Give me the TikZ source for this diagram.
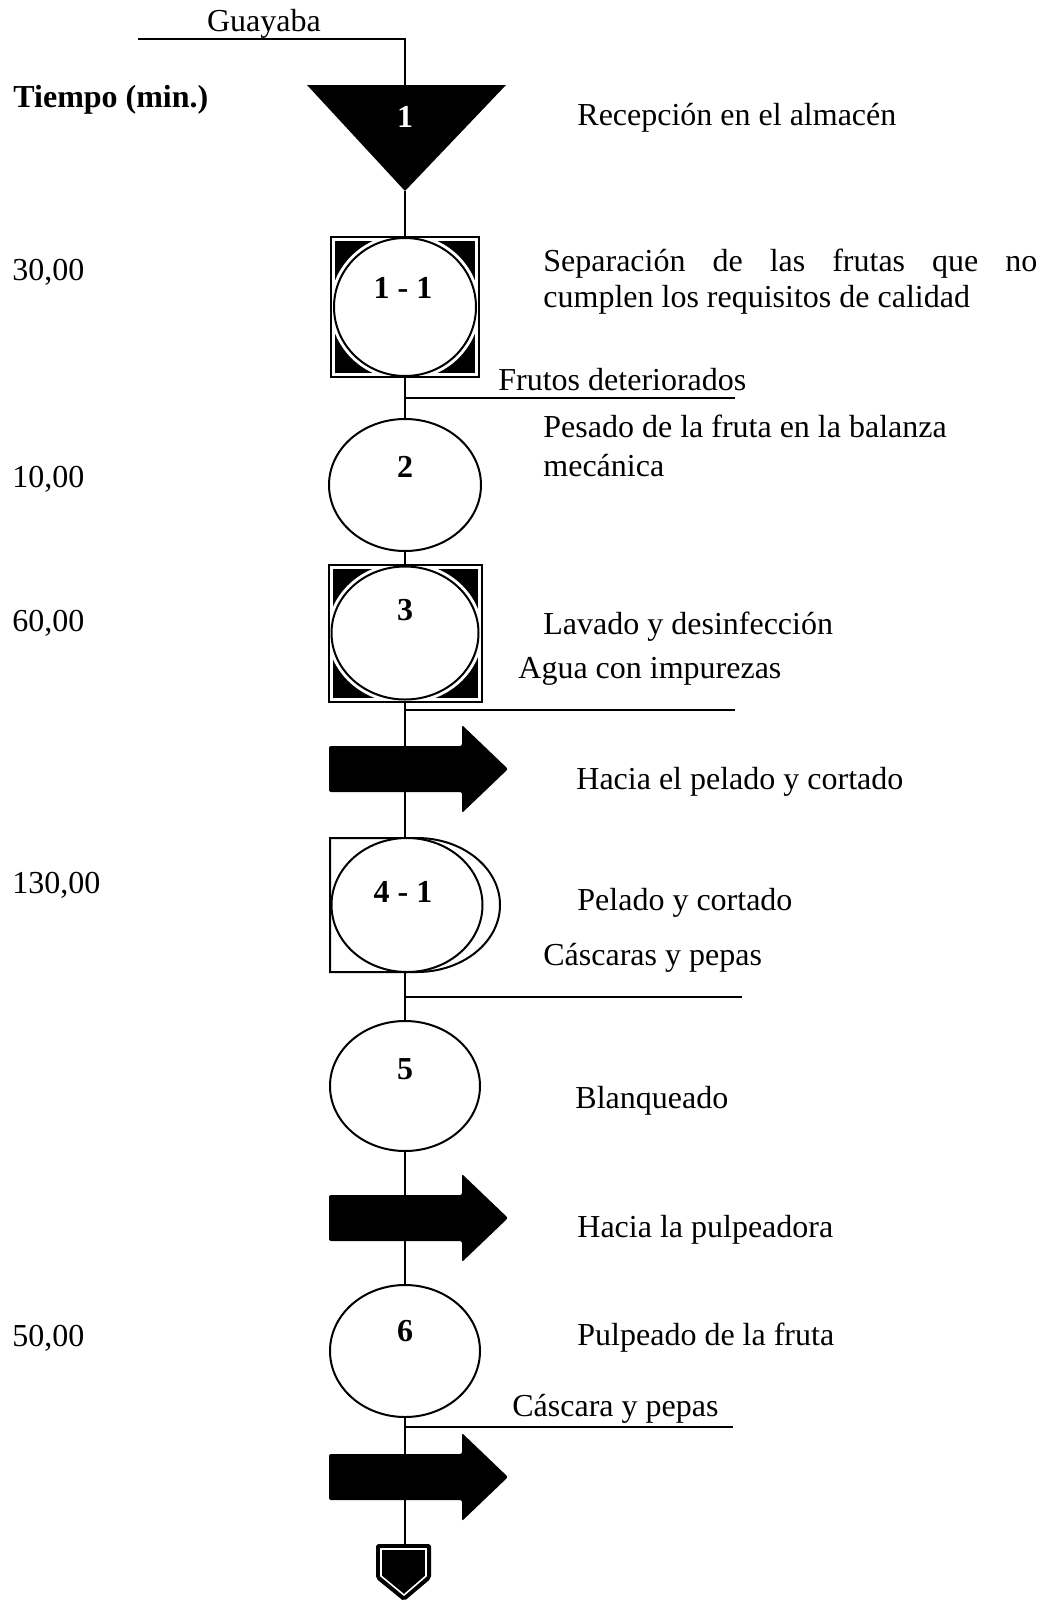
\documentclass[tikz,border=0pt]{standalone}
\usepackage{fontspec}
\setmainfont{Liberation Serif}
\usetikzlibrary{shapes.geometric}
\newcommand{\letra}{\fontsize{16pt}{19pt}\selectfont}
\tikzset{
  flujo/.style={line width=1pt},
  operacion/.style={ellipse, draw, line width=1pt, fill=white, inner sep=0pt},
  opinsp/.style={operacion, preaction={draw=white, line width=4pt}},
  caja/.style={rectangle, draw, line width=1pt, inner sep=0pt},
  numero/.style={font=\letra\bfseries, inner sep=0pt},
  texto/.style={anchor=base west, inner sep=0pt},
}

\begin{document}
\begin{tikzpicture}[x=0.5pt, y=-0.5pt, font=\letra]
  \useasboundingbox (0,0) rectangle (1054,1601);

  % entrada de la fruta
  \coordinate (ent) at (138,39);
  \coordinate (entb) at (405,39);
  \node[anchor=base, inner sep=0pt] (guayaba) at (264,31) {Guayaba};

  % almacenamiento
  \coordinate (almN) at (405,85);
  \coordinate (almS) at (405,191);
  \fill[black] (307,85) -- (506,85) -- (almS) -- cycle;
  \node[numero, text=white] (n1) at (405,117) {1};

  % 1-1 operacion e inspeccion
  \fill[black] (335,241) rectangle (475,373);
  \node[opinsp, minimum width=71pt, minimum height=69pt] (op11) at (405,307) {};
  \node[caja, minimum width=74pt, minimum height=70pt] (box11) at (405,307) {};
  \node[numero] (n11) at (403,288) {1 - 1};

  % 2 pesado
  \node[operacion, minimum width=76pt, minimum height=66pt] (op2) at (405,485) {};
  \node[numero] (n2) at (405,467) {2};

  % 3 lavado
  \fill[black] (333,569) rectangle (478,698);
  \node[opinsp, minimum width=73.5pt, minimum height=66.5pt] (op3) at (405,633) {};
  \node[caja, minimum width=76.5pt, minimum height=68.5pt] (box3) at (405,633) {};
  \node[numero] (n3) at (405,610) {3};

  % 4-1 pelado y cortado
  \coordinate (box41N) at (405,838);
  \coordinate (box41S) at (405,972);
  \draw[line width=1pt, fill=white] (330,838) -- (417,838)
    arc[start angle=-90, end angle=90, x radius=83, y radius=67] -- (330,972) -- cycle;
  \node[operacion, minimum width=75.5pt, minimum height=67pt] (op41) at (407,905) {};
  \node[numero] (n41) at (403,892) {4 - 1};

  % 5 blanqueado
  \node[operacion, minimum width=75pt, minimum height=65pt] (op5) at (405,1086) {};
  \node[numero] (n5) at (405,1069) {5};

  % 6 pulpeado
  \node[operacion, minimum width=75pt, minimum height=66pt] (op6) at (405,1351) {};
  \node[numero] (n6) at (405,1331) {6};

  % almacen final
  \coordinate (finN) at (404,1545);
  \filldraw[black, line width=1pt, rounded corners=1pt] (377,1545) -- (430,1545) -- (430,1578) -- (404,1600) -- (377,1578) -- cycle;
  \draw[white, line width=0.8pt] (381,1549) -- (426,1549) -- (426,1576) -- (404,1595) -- (381,1576) -- cycle;

  % conectores
  \draw[flujo] (ent) -- (entb) -- (almN);
  \draw[flujo] (almS) -- (box11.north);
  \draw[flujo] (box11.south) -- (op2.north);
  \draw[flujo] (op2.south) -- (box3.north);
  \draw[flujo] (box3.south) -- (box41N);
  \draw[flujo] (box41S) -- (op5.north);
  \draw[flujo] (op5.south) -- (op6.north);
  \draw[flujo] (op6.south) -- (op6.south |- finN);

  % salidas laterales
  \coordinate (s1) at (405,398);  \coordinate (s1e) at (735,398);
  \coordinate (s3) at (405,710);  \coordinate (s3e) at (735,710);
  \coordinate (s41) at (405,997); \coordinate (s41e) at (742,997);
  \coordinate (s6) at (405,1427); \coordinate (s6e) at (733,1427);
  \foreach \a/\b in {s1/s1e, s3/s3e, s41/s41e, s6/s6e}
    \draw[flujo] (\a) -- (\b);

  % transportes
  \foreach \y in {769, 1218, 1477}{
    \fill[black, rounded corners=1pt] (329,\y-23) -- (462,\y-23) -- (462,\y-44) -- (508,\y)
      -- (462,\y+44) -- (462,\y+23) -- (329,\y+23) -- cycle;
  }

  % tiempos
  \node[texto] (tiempo) at (13,107) {\bfseries Tiempo (min.)};
  \foreach \tm/\y/\n in {{30,00}/280/t11, {10,00}/487/t2, {60,00}/631/t3, {130,00}/893/t41, {50,00}/1346/t6}
    \node[texto] (\n) at (12,\y) {\tm};

  % descripciones
  \node[texto] (d1) at (577,125) {Recepción en el almacén};
  \node[texto] (d11a) at (543,271) {\makebox[247pt][s]{Separación de las frutas que no}};
  \node[texto] (d11b) at (543,307) {cumplen los requisitos de calidad};
  \node[texto] (r11) at (498,390) {Frutos deteriorados};
  \node[texto] (d2a) at (543,437) {Pesado de la fruta en la balanza};
  \node[texto] (d2b) at (543,476) {mecánica};
  \node[texto] (d3) at (543,634) {Lavado y desinfección};
  \node[texto] (r3) at (518,678) {Agua con impurezas};
  \node[texto] (h1) at (576,789) {Hacia el pelado y cortado};
  \node[texto] (d41) at (577,910) {Pelado y cortado};
  \node[texto] (r41) at (543,965) {Cáscaras y pepas};
  \node[texto] (d5) at (575,1108) {Blanqueado};
  \node[texto] (h2) at (577,1237) {Hacia la pulpeadora};
  \node[texto] (d6) at (577,1345) {Pulpeado de la fruta};
  \node[texto] (r6) at (512,1416) {Cáscara y pepas};
\end{tikzpicture}
\end{document}
